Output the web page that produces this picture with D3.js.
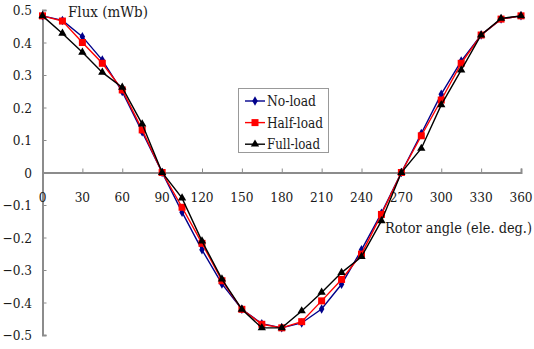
<!DOCTYPE html>
<html><head><meta charset="utf-8">
<script src="https://cdn.jsdelivr.net/npm/d3@7"></script>
<style>body{margin:0;background:#fff}svg{display:block}</style>
</head><body><svg id="c" width="534" height="349"></svg>
<script>
const angles = [0,15,30,45,60,75,90,105,120,135,150,165,180,195,210,225,240,255,270,285,300,315,330,345,360];
const noLoad   = [0.482,0.468,0.418,0.346,0.249,0.125,0,-0.122,-0.238,-0.343,-0.421,-0.465,-0.478,-0.463,-0.420,-0.344,-0.238,-0.125,0,0.120,0.241,0.343,0.423,0.472,0.482];
const halfLoad = [0.482,0.466,0.400,0.336,0.254,0.131,0,-0.107,-0.218,-0.333,-0.421,-0.467,-0.478,-0.459,-0.395,-0.329,-0.251,-0.129,0,0.113,0.223,0.336,0.423,0.472,0.482];
const fullLoad = [0.482,0.428,0.370,0.308,0.262,0.149,0,-0.079,-0.211,-0.328,-0.421,-0.478,-0.478,-0.426,-0.369,-0.308,-0.259,-0.149,0,0.074,0.208,0.315,0.423,0.474,0.482];
const xTicks = [0,30,60,90,120,150,180,210,240,270,300,330,360];
const yTicks = [0.5,0.4,0.3,0.2,0.1,0,-0.1,-0.2,-0.3,-0.4,-0.5];
const seriesNames = ["No-load","Half-load","Full-load"];
const legendWidths = [49,56,53];
const seriesColors = ["#00008b","#ff0000","#000000"];
const FONT = "'DejaVu Serif Condensed', 'DejaVu Serif', serif";

const svg = d3.select("#c");
const x = d3.scaleLinear().domain([0,360]).range([42.5,521]);
const y = d3.scaleLinear().domain([-0.5,0.5]).range([335,10]);
const axisColor = "#8c8c8c";
const txt = "#1a1a1a";

const ya = svg.append("g").attr("transform",`translate(${x(0)},0)`)
  .call(d3.axisRight(y).tickValues(yTicks).tickSize(4).tickFormat(""));
ya.select(".domain").attr("stroke",axisColor).attr("stroke-width",2);
ya.selectAll(".tick line").attr("stroke",axisColor).attr("stroke-width",1);
svg.append("g").selectAll("text").data(yTicks).join("text")
  .attr("x",32).attr("y",d=>y(d)+5).attr("text-anchor","end").style("font-family",FONT)
  .attr("font-size",13.5).attr("fill",txt).text(d=>d3.format("")(d));

const xa = svg.append("g").attr("transform",`translate(0,${y(0)})`)
  .call(d3.axisTop(x).tickValues(xTicks).tickSize(4).tickFormat(""));
xa.select(".domain").attr("stroke",axisColor).attr("stroke-width",2);
xa.selectAll(".tick line").attr("stroke",axisColor).attr("stroke-width",1);
svg.append("g").selectAll("text").data(xTicks).join("text")
  .attr("x",d=>x(d)).attr("y",y(0)+29).attr("text-anchor","middle").style("font-family",FONT)
  .attr("font-size",13.5).attr("fill",txt).text(d=>d);

svg.append("text").attr("x",68).attr("y",17).attr("font-size",14).style("font-family",FONT)
  .attr("textLength",80).attr("lengthAdjust","spacingAndGlyphs").attr("fill",txt).text("Flux (mWb)");
svg.append("text").attr("x",385).attr("y",233).attr("font-size",14).style("font-family",FONT)
  .attr("textLength",147).attr("lengthAdjust","spacingAndGlyphs").attr("fill",txt).text("Rotor angle (ele. deg.)");

const data = [noLoad,halfLoad,fullLoad];
const line = d3.line().x((d,i)=>x(angles[i])).y(d=>y(d));
function marker(g,k,cx,cy,col){
  if(k===0) g.append("path").attr("d",d3.symbol(d3.symbolDiamond,26)()).attr("transform",`translate(${cx},${cy})`).attr("fill",col);
  else if(k===1) g.append("rect").attr("x",cx-3.5).attr("y",cy-3.5).attr("width",7).attr("height",7).attr("fill",col);
  else g.append("path").attr("d",d3.symbol(d3.symbolTriangle,30)()).attr("transform",`translate(${cx},${cy})`).attr("fill",col);
}
data.forEach((vals,k)=>{
  const g = svg.append("g");
  g.append("path").datum(vals).attr("d",line).attr("fill","none").attr("stroke",seriesColors[k]).attr("stroke-width",1.4);
  vals.forEach((v,i)=>marker(g,k,x(angles[i]),y(v),seriesColors[k]));
});

const lg = svg.append("g");
lg.append("rect").attr("x",238.5).attr("y",88.5).attr("width",90).attr("height",64).attr("fill","#fff").attr("stroke","#999").attr("stroke-width",1);
seriesNames.forEach((n,k)=>{
  const cy = 101 + k*21.6;
  lg.append("line").attr("x1",245).attr("x2",265).attr("y1",cy).attr("y2",cy).attr("stroke",seriesColors[k]).attr("stroke-width",1.4);
  marker(lg,k,255,cy,seriesColors[k]);
  lg.append("text").attr("x",267).attr("y",cy+5).attr("font-size",14).style("font-family",FONT)
    .attr("textLength",legendWidths[k]).attr("lengthAdjust","spacingAndGlyphs").attr("fill",txt).text(n);
});
</script></body></html>
